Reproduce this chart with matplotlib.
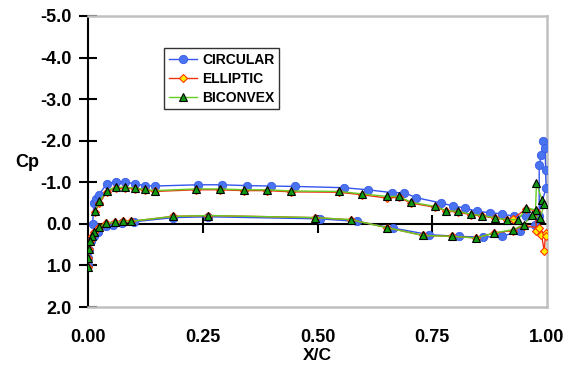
import matplotlib.pyplot as plt
import numpy as np

plt.rcParams['font.family'] = ['Liberation Sans', 'DejaVu Sans']
plt.rcParams['font.weight'] = 'bold'

# circular: upper surface LE->TE, trailing edge spike, lower surface TE->LE, stagnation
circ_x = [0.010, 0.013, 0.017, 0.024, 0.041, 0.060, 0.080, 0.102, 0.125, 0.147,
          0.239, 0.291, 0.346, 0.398, 0.451, 0.557, 0.609, 0.663, 0.689, 0.715,
          0.770, 0.796, 0.822, 0.848, 0.875, 0.902, 0.928, 0.954, 0.983,
          0.983, 0.988, 0.992, 0.996, 0.997, 0.998,
          0.974, 0.941, 0.902, 0.861, 0.808, 0.743, 0.664, 0.585, 0.506,
          0.262, 0.185, 0.100, 0.075, 0.055, 0.040, 0.022, 0.012, 0.006, 0.003, 0.001, 0.0]
circ_cp = [0.00, -0.50, -0.60, -0.70, -0.97, -1.01, -1.01, -0.96, -0.92, -0.91,
           -0.94, -0.94, -0.92, -0.91, -0.90, -0.87, -0.82, -0.75, -0.75, -0.63,
           -0.50, -0.43, -0.38, -0.30, -0.27, -0.24, -0.18, -0.19, -0.18,
           -1.42, -1.66, -2.00, -1.82, -1.30, -0.86,
           0.02, 0.17, 0.30, 0.32, 0.30, 0.26, 0.10, -0.06, -0.12,
           -0.17, -0.15, -0.05, -0.03, 0.02, 0.04, 0.19, 0.30, 0.42, 0.62, 0.82, 1.00]

# elliptic
ell_x = [0.015, 0.025, 0.041, 0.060, 0.080, 0.102, 0.125, 0.147,
         0.235, 0.287, 0.339, 0.390, 0.443, 0.546, 0.598, 0.651, 0.677, 0.704,
         0.756, 0.781, 0.807, 0.834, 0.859, 0.886, 0.912, 0.925,
         0.955, 0.975, 0.977, 0.988, 0.994, 0.997, 0.998, 0.983,
         0.950, 0.925, 0.885, 0.846, 0.794, 0.730, 0.651, 0.573, 0.495,
         0.262, 0.185, 0.093, 0.076, 0.058, 0.040, 0.024, 0.014, 0.008, 0.004, 0.003, 0.001, 0.0]
ell_cp = [-0.28, -0.50, -0.77, -0.86, -0.87, -0.84, -0.81, -0.78,
          -0.82, -0.82, -0.80, -0.80, -0.77, -0.76, -0.70, -0.62, -0.64, -0.50,
          -0.40, -0.31, -0.28, -0.22, -0.19, -0.14, -0.10, -0.12,
          -0.36, -0.32, 0.18, 0.26, 0.66, 0.22, 0.30, 0.10,
          0.04, 0.16, 0.22, 0.34, 0.30, 0.28, 0.09, -0.10, -0.15,
          -0.20, -0.18, -0.06, -0.06, -0.04, -0.02, 0.08, 0.19, 0.30, 0.42, 0.61, 0.82, 1.03]

# biconvex
bic_x = [0.015, 0.025, 0.041, 0.060, 0.080, 0.102, 0.125, 0.147,
         0.235, 0.287, 0.339, 0.390, 0.443, 0.546, 0.598, 0.651, 0.677, 0.704,
         0.756, 0.781, 0.807, 0.834, 0.859, 0.886, 0.912, 0.937,
         0.955, 0.975, 0.977, 0.989, 0.994, 0.985, 0.967,
         0.950, 0.925, 0.885, 0.846, 0.794, 0.730, 0.651, 0.573, 0.495,
         0.262, 0.185, 0.093, 0.076, 0.058, 0.040, 0.024, 0.014, 0.008, 0.004, 0.003, 0.001, 0.0]
bic_cp = [-0.30, -0.54, -0.80, -0.88, -0.88, -0.86, -0.83, -0.80,
          -0.84, -0.84, -0.82, -0.82, -0.79, -0.78, -0.72, -0.66, -0.66, -0.52,
          -0.42, -0.32, -0.30, -0.23, -0.20, -0.15, -0.10, -0.10,
          -0.38, -0.34, -0.98, -0.58, -0.48, -0.14, -0.22,
          0.02, 0.14, 0.22, 0.34, 0.30, 0.28, 0.09, -0.10, -0.15,
          -0.20, -0.18, -0.06, -0.06, -0.04, -0.02, 0.08, 0.19, 0.30, 0.42, 0.61, 0.82, 1.03]

x_ticks = [0.0, 0.25, 0.5, 0.75, 1.0]
y_ticks = [-5.0, -4.0, -3.0, -2.0, -1.0, 0.0, 1.0, 2.0]

fig = plt.figure(figsize=(5.74, 3.65), dpi=100)
ax = fig.add_axes([88/574, 1-307/365, 459/574, 291/365])

ax.plot(circ_x, circ_cp, color='#3355ee', lw=1, marker='o', ms=6,
        mfc='#4a73f0', mec='#3a5ce8', mew=0.6, label='CIRCULAR', zorder=3)
ax.plot(ell_x, ell_cp, color='#ee3311', lw=1, marker='D', ms=4.5,
        mfc='#ffee00', mec='#ff3300', mew=0.8, label='ELLIPTIC', zorder=4)
ax.plot(bic_x, bic_cp, color='#66cc22', lw=1, marker='^', ms=6,
        mfc='#119911', mec='black', mew=0.8, label='BICONVEX', zorder=5)

ax.set_xlim(0, 1)
ax.set_ylim(2, -5)
ax.set_xticks(x_ticks)
ax.set_xticklabels(['%.2f' % v for v in x_ticks])
ax.set_yticks(y_ticks)
ax.set_yticklabels(['%.1f' % v for v in y_ticks])

for s in ['top', 'right', 'bottom']:
    ax.spines[s].set_color('#c0c0c0')
    ax.spines[s].set_linewidth(1.8)
ax.spines['left'].set_color('black')
ax.spines['left'].set_linewidth(1.5)
ax.tick_params(axis='y', direction='inout', length=13, width=1.5, pad=5, labelsize=13)
ax.tick_params(axis='x', length=0, pad=16, labelsize=13)

# zero line with ticks through it
y0, y1 = ax.get_ylim()
sec = ax.secondary_xaxis((y0 - 0) / (y0 - y1))
sec.set_xticks([0.25, 0.5, 0.75])
sec.tick_params(direction='inout', length=13, width=1.5, labelbottom=False)
sec.spines['bottom'].set_linewidth(1.5)

ax.set_xlabel('X/C', fontsize=12.5, fontweight='bold', labelpad=1)
ax.set_ylabel('Cp', fontsize=13, fontweight='bold', rotation=0, va='center')
ax.yaxis.set_label_coords(-0.132, 0.495)

leg = ax.legend(loc='upper left', bbox_to_anchor=(76/459, 1-32/291),
                prop={'weight': 'bold', 'size': 10},
                frameon=True, fancybox=False, edgecolor='black', handlelength=2.0,
                labelspacing=0.35, borderpad=0.35, handletextpad=0.4, borderaxespad=0)
leg.get_frame().set_linewidth(1.0)

fig.savefig('out.png', dpi=100)
